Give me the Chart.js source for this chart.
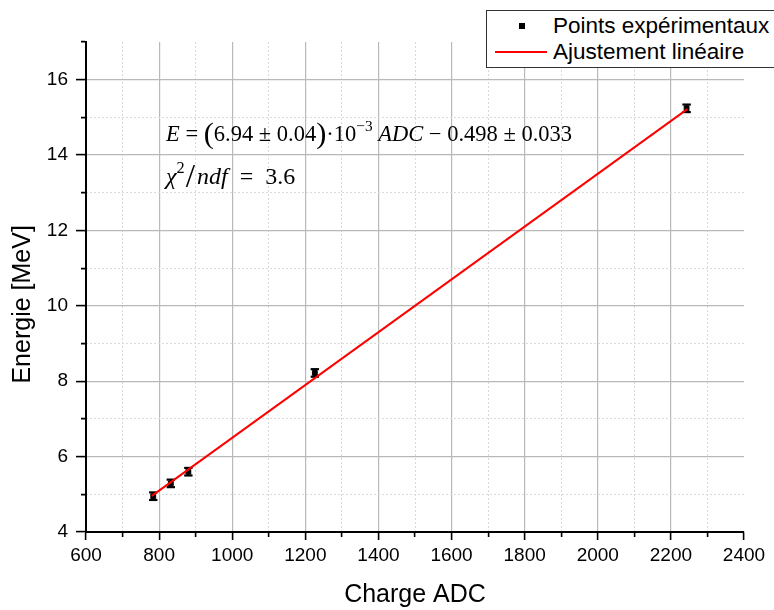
<!DOCTYPE html>
<html>
<head>
<meta charset="utf-8">
<script src="https://cdn.jsdelivr.net/npm/chart.js@4.4.0/dist/chart.umd.min.js"></script>
<style>
  html, body { margin: 0; padding: 0; background: #fff; }
  #wrap { position: relative; width: 774px; height: 610px; overflow: hidden; }
  #chart { position: absolute; left: 0; top: 0; }
  .eq { position: absolute; font-family: "Liberation Serif", "Times New Roman", serif; font-size: 22.5px; line-height: 1; white-space: nowrap; color: #000; }
  .eq sup { font-size: 0.68em; position: relative; top: -0.1em; }
  .eq .big { font-size: 1.35em; position: relative; top: 0.06em; }
  #eq2 { font-size: 24px; }
  #eq2 .sl { font-size: 1.4em; position: relative; top: 0.08em; margin: 0 2px 0 1px; }
  #legend { position: absolute; left: 486px; top: 10px; width: 300px; height: 56px; border: 1px solid #333; background: #fff;
            font-family: "Liberation Sans", Arial, sans-serif; font-size: 22.5px; color: #000; }
  #legend .row { position: absolute; left: 0; height: 26px; line-height: 26px; }
  #legend .txt { position: absolute; left: 66px; white-space: nowrap; }
  #legend .sq { position: absolute; left: 32px; top: 10px; width: 6px; height: 6px; background: #000; }
  #legend .ln { position: absolute; left: 8px; top: 12px; width: 52px; height: 2px; background: #ff0000; }
</style>
</head>
<body>
<div id="wrap">
  <canvas id="chart" width="774" height="610"></canvas>
  <div class="eq" id="eq1" style="left:166px; top:116px;"><i>E</i> = <span class="big">(</span>6.94 ± 0.04<span class="big">)</span>·10<sup>−3</sup> <i>ADC</i> − 0.498 ± 0.033</div>
  <div class="eq" id="eq2" style="left:166px; top:156px;"><i>χ</i><sup>2</sup><span class="sl">/</span><i>ndf</i>&nbsp; =&nbsp; 3.6</div>
  <div id="legend">
    <div class="row" style="top:2px;"><span class="sq"></span><span class="txt">Points expérimentaux</span></div>
    <div class="row" style="top:28px;"><span class="ln"></span><span class="txt">Ajustement linéaire</span></div>
  </div>
</div>
<script>
// measured points
const adc = [784, 832, 880, 1226, 2243];
const energy = [4.95, 5.29, 5.60, 8.22, 15.24];
const energyErr = [0.1, 0.1, 0.1, 0.1, 0.1];
// linear fit, drawn between its two end points
const fitAdc = [780, 2245];
const fitEnergy = [4.96, 15.22];
// axes
const xRange = [600, 2400];
const yRange = [4, 17];
const xMajor = 200, xMinor = 100;
const yMajor = 2, yMinor = 1;

const GRID = '#b9b9b9', GRID_MINOR = '#d9d9d9';

const pts = adc.map((x, i) => ({x, y: energy[i]}));
const caps = [];
const stems = [];
adc.forEach((x, i) => {
  caps.push({x, y: energy[i] - energyErr[i]}, {x, y: energy[i] + energyErr[i]});
  stems.push({x, y: energy[i] - energyErr[i]}, {x, y: energy[i] + energyErr[i]}, {x, y: null});
});
const fit = fitAdc.map((x, i) => ({x, y: fitEnergy[i]}));

const isMajor = (v, step) => Math.abs(v / step - Math.round(v / step)) < 1e-6;
const tickFont = {family: '"Liberation Sans", Arial, sans-serif', size: 19};
const titleFont = {family: '"Liberation Sans", Arial, sans-serif', size: 25};

new Chart(document.getElementById('chart'), {
  type: 'scatter',
  data: {
    datasets: [
      {label: 'Ajustement linéaire', data: fit, showLine: true, borderColor: '#ff0000', borderWidth: 2, pointRadius: 0, order: 0},
      {label: 'Points expérimentaux', data: pts, pointStyle: 'rect', pointRadius: 3.4, backgroundColor: '#000', borderColor: '#000', borderWidth: 1, order: 1},
      {label: 'err', data: stems, showLine: true, spanGaps: false, borderColor: '#000', borderWidth: 2, pointRadius: 0, order: 2},
      {label: 'cap', data: caps, pointStyle: 'line', pointRadius: 4.2, borderColor: '#000', borderWidth: 2.2, order: 2}
    ]
  },
  options: {
    responsive: false,
    animation: false,
    events: [],
    layout: {padding: {top: 42, right: 30, left: 0, bottom: 0}},
    plugins: {legend: {display: false}, tooltip: {enabled: false}},
    scales: {
      x: {
        type: 'linear', position: 'bottom', min: xRange[0], max: xRange[1],
        afterFit: s => { s.height = 78; },
        ticks: {stepSize: xMinor, autoSkip: false, maxRotation: 0, color: '#000', font: tickFont, padding: 4,
                callback: v => isMajor(v, xMajor) ? v : ''},
        grid: {
          color: c => (isMajor(c.tick.value, xMajor) && c.tick.value !== xRange[0] && c.tick.value !== xRange[1]) ? GRID : 'transparent',
          lineWidth: 1.2, tickColor: '#000', tickLength: 8, tickWidth: 1.6,
          tickBorderDash: c => isMajor(c.tick.value, xMajor) ? [] : [4, 100]
        },
        border: {color: '#000', width: 2},
        title: {display: true, text: 'Charge ADC', color: '#000', font: titleFont, padding: {top: 0, bottom: 0}}
      },
      xm: {
        type: 'linear', position: 'bottom', min: xRange[0], max: xRange[1],
        ticks: {display: false, stepSize: xMinor},
        grid: {color: c => isMajor(c.tick.value, xMajor) ? 'transparent' : GRID_MINOR, drawTicks: false, lineWidth: 1},
        border: {display: false, dash: [2, 2]}
      },
      y: {
        type: 'linear', position: 'left', min: yRange[0], max: yRange[1],
        afterFit: s => { s.width = 86; },
        ticks: {stepSize: yMinor, color: '#000', font: tickFont, padding: 8,
                callback: v => isMajor(v, yMajor) ? v : ''},
        grid: {
          color: c => (isMajor(c.tick.value, yMajor) && c.tick.value !== yRange[0]) ? GRID : 'transparent',
          lineWidth: 1.2, tickColor: '#000', tickLength: 10, tickWidth: 1.6,
          tickBorderDash: c => isMajor(c.tick.value, yMajor) ? [] : [0, 5, 20]
        },
        border: {color: '#000', width: 2},
        // trailing spaces push the title down, as in the original
        title: {display: true, text: 'Energie [MeV]\u00a0\u00a0\u00a0\u00a0\u00a0', color: '#000', font: titleFont, padding: {top: 8, bottom: 0}}
      },
      ym: {
        type: 'linear', position: 'left', min: yRange[0], max: yRange[1],
        ticks: {display: false, stepSize: yMinor},
        grid: {color: c => (isMajor(c.tick.value, yMajor) || c.tick.value === yRange[1]) ? 'transparent' : GRID_MINOR, drawTicks: false, lineWidth: 1},
        border: {display: false, dash: [2, 2]}
      }
    }
  }
});
</script>
</body>
</html>
